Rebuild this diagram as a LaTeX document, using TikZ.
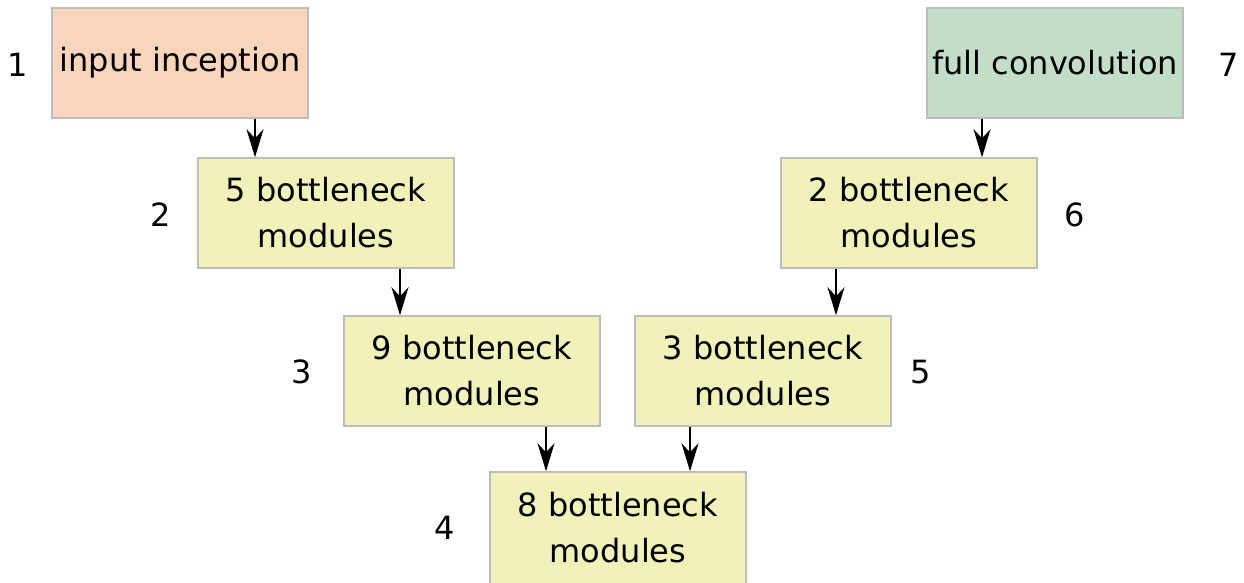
\documentclass[tikz,border=0pt]{standalone}
\usepackage{fontspec}
\setmainfont{DejaVu Sans}
\usetikzlibrary{arrows.meta}
\definecolor{inputcol}{HTML}{F9D6BB}
\definecolor{convcol}{HTML}{C2DEC8}
\definecolor{modcol}{HTML}{F1F1BA}
\definecolor{edgecol}{HTML}{BDBDBD}
% one stage of the network: name, x, y, text, colour
\newcommand\stagebox[5]{%
    \node[stage,fill=#5] (#1) at (#2,#3) {#4};
    }
\begin{document}
\begin{tikzpicture}[x=1pt,y=-1pt,
    stage/.style={draw=edgecol,line width=1.5pt,minimum width=256pt,minimum height=110pt,
        align=center,inner sep=0pt,font=\fontsize{32}{46}\selectfont},
    stagenum/.style={font=\fontsize{32}{46}\selectfont},
    flow/.style={-{Stealth[length=28pt,width=17pt,inset=9pt]},line width=2pt}]
    \useasboundingbox (0,0) rectangle (1244,582);

    % the down path
    \stagebox{inc}{180}{63}{input inception}{inputcol}
    \stagebox{bfive}{326}{213}{5 bottleneck\\modules}{modcol}
    \stagebox{bnine}{472}{371}{9 bottleneck\\modules}{modcol}
    % the up path
    \stagebox{conv}{1055}{63}{full convolution}{convcol}
    \stagebox{btwo}{909}{213}{2 bottleneck\\modules}{modcol}
    \stagebox{bthree}{763}{371}{3 bottleneck\\modules}{modcol}
    % bottom, cut by the page
    \node[stage,fill=modcol,minimum height=122pt] (beight) at (618,533) {8 bottleneck\\modules\\[-34pt]};

    % numbers of the stages
    \node[stagenum] (ninc) at (18,65) {1};
    \node[stagenum] (nfive) at (161,215) {2};
    \node[stagenum] (nnine) at (302,372) {3};
    \node[stagenum] (neight) at (445,528) {4};
    \node[stagenum] (nthree) at (921,372) {5};
    \node[stagenum] (ntwo) at (1075,215) {6};
    \node[stagenum] (nconv) at (1229,65) {7};

    \draw[flow] ([xshift=75pt]inc.south) -- ([xshift=75pt]inc.south |- bfive.north);
    \draw[flow] ([xshift=74pt]bfive.south) -- ([xshift=74pt]bfive.south |- bnine.north);
    \draw[flow] ([xshift=74pt]bnine.south) -- ([xshift=74pt]bnine.south |- beight.north);
    \draw[flow] ([xshift=-73pt]conv.south) -- ([xshift=-73pt]conv.south |- btwo.north);
    \draw[flow] ([xshift=-73pt]btwo.south) -- ([xshift=-73pt]btwo.south |- bthree.north);
    \draw[flow] ([xshift=-73pt]bthree.south) -- ([xshift=-73pt]bthree.south |- beight.north);
    \end{tikzpicture}
\end{document}
